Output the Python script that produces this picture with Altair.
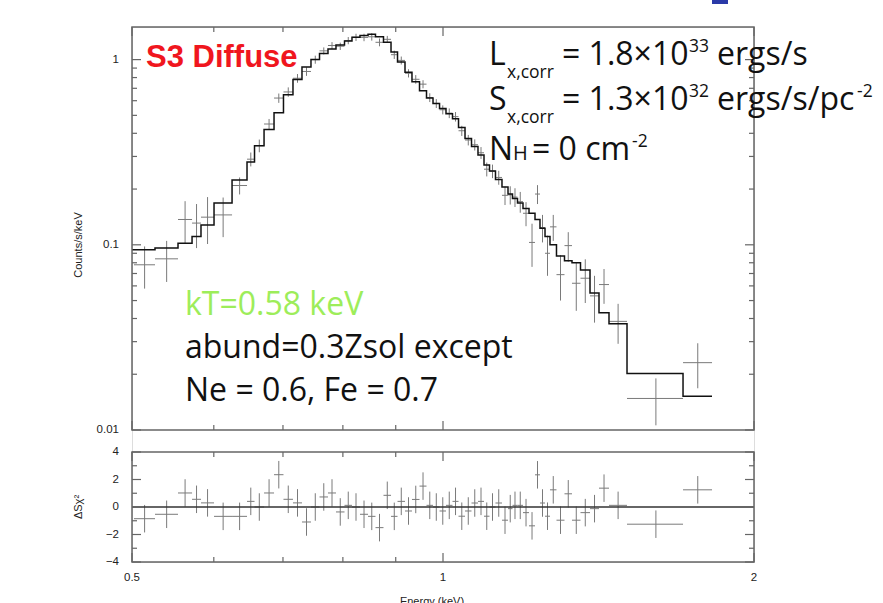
import altair as alt
import pandas as pd

# ---------------- data ----------------
# channel-bin edges (keV), 60 bins
EDGES = [0.5022, 0.5263, 0.5540, 0.5716, 0.5831, 0.6003, 0.6249, 0.6461, 0.6570, 0.6711,
         0.6862, 0.7008, 0.7158, 0.7303, 0.7451, 0.7594, 0.7739, 0.7878, 0.8029, 0.8164,
         0.8311, 0.8461, 0.8603, 0.8758, 0.8906, 0.9036, 0.9188, 0.9332, 0.9490, 0.9639,
         0.9780, 0.9923, 1.0067, 1.0214, 1.0352, 1.0503, 1.0656, 1.0811, 1.0957, 1.1092,
         1.1241, 1.1405, 1.1559, 1.1675, 1.1806, 1.1952, 1.2113, 1.2276, 1.2413, 1.2553,
         1.2693, 1.2878, 1.3110, 1.3331, 1.3586, 1.3877, 1.4158, 1.4477, 1.5070, 1.7074,
         1.8214]
# folded model (counts/s/keV) per bin
MODEL = [0.094, 0.096, 0.102, 0.111, 0.128, 0.168, 0.224, 0.280, 0.343, 0.419,
         0.517, 0.647, 0.780, 0.913, 1.00, 1.08, 1.14, 1.20, 1.26, 1.32,
         1.35, 1.37, 1.33, 1.24, 1.10, 0.97, 0.855, 0.76, 0.68, 0.62,
         0.58, 0.545, 0.51, 0.48, 0.43, 0.375, 0.34, 0.305, 0.27, 0.25,
         0.225, 0.205, 0.188, 0.178, 0.168, 0.157, 0.148, 0.137, 0.123, 0.111,
         0.100, 0.087, 0.082, 0.080, 0.073, 0.055, 0.043, 0.0375, 0.0202, 0.0152]
MODEL_START = 0.5
# data (counts/s/keV) and 1-sigma errors
COUNTS = [0.078, 0.084, 0.137, 0.131, 0.141, 0.145, 0.209, 0.290, 0.343, 0.449,
          0.620, 0.669, 0.793, 0.863, 1.00, 1.115, 1.192, 1.181, 1.267, 1.32,
          1.318, 1.328, 1.240, 1.287, 1.063, 0.990, 0.844, 0.783, 0.737, 0.624,
          0.58, 0.536, 0.514, 0.492, 0.413, 0.368, 0.347, 0.314, 0.256, 0.25,
          0.231, 0.185, 0.186, 0.181, 0.171, 0.148, 0.103, 0.188, 0.124, 0.090,
          0.125, 0.069, 0.099, 0.062, 0.066, 0.053, 0.061, 0.0386, 0.0148, 0.0231]
ERR = [0.020, 0.021, 0.035, 0.035, 0.040, 0.035, 0.022, 0.025, 0.027, 0.029,
       0.036, 0.039, 0.043, 0.046, 0.050, 0.049, 0.051, 0.054, 0.057, 0.059,
       0.061, 0.062, 0.060, 0.056, 0.055, 0.049, 0.043, 0.042, 0.037, 0.034,
       0.032, 0.030, 0.031, 0.029, 0.026, 0.024, 0.024, 0.023, 0.022, 0.021,
       0.020, 0.021, 0.021, 0.021, 0.022, 0.022, 0.027, 0.022, 0.021, 0.022,
       0.020, 0.019, 0.018, 0.018, 0.0175, 0.015, 0.013, 0.0094, 0.0042, 0.0063]
# residuals (sign(data-model) * delta chi)
RESID = [-0.85, -0.53, 1.02, 0.56, 0.30, -0.68, -0.68, 0.41, 0.00, 1.02,
         2.35, 0.56, 0.30, -1.09, 0.00, 0.73, 1.02, -0.36, 0.12, 0.00,
         -0.53, -0.68, -1.50, 0.85, -0.68, 0.41, -0.29, 0.55, 1.52, 0.12,
         0.00, -0.29, 0.12, 0.41, -0.67, -0.29, 0.29, 0.41, -0.67, 0.00,
         0.29, -0.96, -0.12, 0.12, 0.12, -0.41, -1.37, 2.34, 0.29, -0.67,
         1.25, -0.96, 0.96, -0.96, -0.41, -0.12, 1.37, 0.12, -1.25, 1.25]
RESID_ERR = 1.0

X_MAJOR = [0.5, 1.0, 2.0]
X_LABELS = ["0.5", "1", "2"]
X_MINOR = [0.6, 0.7, 0.8, 0.9]
Y_MAJOR = [0.01, 0.1, 1.0]
Y_LABELS = ["0.01", "0.1", "1"]
Y_MINOR = [0.02, 0.03, 0.04, 0.05, 0.06, 0.07, 0.08, 0.09,
           0.2, 0.3, 0.4, 0.5, 0.6, 0.7, 0.8, 0.9]
R_MAJOR = [-4, -2, 0, 2, 4]
R_LABELS = ["\u22124", "\u22122", "0", "2", "4"]
R_MINOR = [-3, -1, 1, 3]

# ---------------- layout ----------------
W, H = 622, 535
TOP_H = 403
RES_TOP, RES_BOT = 425, 535
FRAME = "#666666"
INK = "#222222"
CROSS = "#7a7a7a"

xs = alt.Scale(type="log", domain=[0.5, 2.0], nice=False)
ys = alt.Scale(type="log", domain=[0.01, 1.5], range=[TOP_H, 0], nice=False)
rs = alt.Scale(type="linear", domain=[-4, 4], range=[RES_BOT, RES_TOP], nice=False, zero=False)

lo = EDGES[:-1]
hi = EDGES[1:]
bins = pd.DataFrame({
    "lo": lo, "hi": hi,
    "mid": [(a + b) / 2 for a, b in zip(lo, hi)],
    "c": COUNTS,
    "clo": [c - e for c, e in zip(COUNTS, ERR)],
    "chi": [c + e for c, e in zip(COUNTS, ERR)],
    "r": RESID,
    "rlo": [r - RESID_ERR for r in RESID],
    "rhi": [r + RESID_ERR for r in RESID],
})
model_df = pd.DataFrame({"x": [MODEL_START] + hi, "y": MODEL + [MODEL[-1]]})

X = lambda f: alt.X(f, type="quantitative", scale=xs, axis=None)
layers = []

# data crosses (top)
base = alt.Chart(bins)
layers.append(base.mark_rule(color=CROSS, strokeWidth=1).encode(
    x=X("lo"), x2="hi", y=alt.Y("c:Q", scale=ys, axis=None)))
layers.append(base.mark_rule(color=CROSS, strokeWidth=1).encode(
    x=X("mid"), y=alt.Y("clo:Q", scale=ys, axis=None), y2="chi"))
# model step line
layers.append(alt.Chart(model_df).mark_line(interpolate="step-after", color="#111111",
                                            strokeWidth=1.5).encode(
    x=X("x"), y=alt.Y("y:Q", scale=ys, axis=None)))
# residual crosses
layers.append(base.mark_rule(color=CROSS, strokeWidth=1).encode(
    x=X("lo"), x2="hi", y=alt.Y("r:Q", scale=rs, axis=None)))
layers.append(base.mark_rule(color=CROSS, strokeWidth=1).encode(
    x=X("mid"), y=alt.Y("rlo:Q", scale=rs, axis=None), y2="rhi"))
# zero line
zero = pd.DataFrame({"x": [0.5], "x2": [2.0], "y": [0.0]})
layers.append(alt.Chart(zero).mark_rule(color="#333333", strokeWidth=1.3).encode(
    x=X("x"), x2="x2", y=alt.Y("y:Q", scale=rs, axis=None)))

# frames
ftop = pd.DataFrame({"x": [0.5], "x2": [2.0], "y": [0.01], "y2": [1.5]})
layers.append(alt.Chart(ftop).mark_rect(filled=False, stroke=FRAME, strokeWidth=1.5).encode(
    x=X("x"), x2="x2", y=alt.Y("y:Q", scale=ys, axis=None), y2="y2"))
fres = pd.DataFrame({"x": [0.5], "x2": [2.0], "y": [-4.0], "y2": [4.0]})
layers.append(alt.Chart(fres).mark_rect(filled=False, stroke=FRAME, strokeWidth=1.5).encode(
    x=X("x"), x2="x2", y=alt.Y("y:Q", scale=rs, axis=None), y2="y2"))


def xticks(vals, y0, y1):
    return alt.Chart(pd.DataFrame({"v": vals})).mark_rule(color=FRAME, strokeWidth=1.2).encode(
        x=X("v"), y=alt.value(y0), y2=alt.value(y1))


def yticks(vals, scale, x0, x1):
    return alt.Chart(pd.DataFrame({"v": vals})).mark_rule(color=FRAME, strokeWidth=1.2).encode(
        y=alt.Y("v:Q", scale=scale, axis=None), x=alt.value(x0), x2=alt.value(x1))


MAJ, MIN = 9, 5
for y0, d in [(TOP_H, -1), (0, 1), (RES_TOP, 1), (RES_BOT, -1)]:
    layers.append(xticks(X_MAJOR, y0, y0 + d * MAJ))
    layers.append(xticks(X_MINOR, y0, y0 + d * MIN))
for x0, d in [(0, 1), (W, -1)]:
    layers.append(yticks(Y_MAJOR, ys, x0, x0 + d * MAJ))
    layers.append(yticks(Y_MINOR, ys, x0, x0 + d * MIN))
    layers.append(yticks(R_MAJOR, rs, x0, x0 + d * MAJ))
    layers.append(yticks(R_MINOR, rs, x0, x0 + d * MIN))

# tick labels
TICKFONT = "Liberation Sans"
layers.append(alt.Chart(pd.DataFrame({"v": X_MAJOR, "t": X_LABELS})).mark_text(
    font=TICKFONT, fontSize=11.5, color=INK, baseline="middle", align="center").encode(
    x=X("v"), y=alt.value(551), text="t:N"))
layers.append(alt.Chart(pd.DataFrame({"v": Y_MAJOR, "t": Y_LABELS})).mark_text(
    font=TICKFONT, fontSize=11.5, color=INK, baseline="middle", align="right").encode(
    y=alt.Y("v:Q", scale=ys, axis=None), x=alt.value(-13), text="t:N"))
layers.append(alt.Chart(pd.DataFrame({"v": R_MAJOR, "t": R_LABELS})).mark_text(
    font=TICKFONT, fontSize=11.5, color=INK, baseline="middle", align="right").encode(
    y=alt.Y("v:Q", scale=rs, axis=None), x=alt.value(-13), text="t:N"))


def label(txt, x, y, size, color="#111111", font="Open Sans", weight="normal",
          baseline="alphabetic", align="left", angle=0):
    return alt.Chart(pd.DataFrame({"t": [txt]})).mark_text(
        x=x, y=y, fontSize=size, color=color, font=font, fontWeight=weight,
        baseline=baseline, align=align, angle=angle).encode(text="t:N")


# axis titles
layers.append(label("Counts/s/keV", -53, 218, 11, INK, TICKFONT, baseline="middle",
                    align="center", angle=270))
layers.append(label("\u0394S\u03c7\u00b2", -53, 480, 11, INK, TICKFONT, baseline="middle",
                    align="center", angle=270))
layers.append(label("Energy (keV)", 300, 569, 11, INK, TICKFONT, baseline="top",
                    align="center"))

# small blue link fragment at the top edge of the picture
layers.append(alt.Chart(pd.DataFrame({"t": [0]})).mark_rect(color="#2a3aa8").encode(
    x=alt.value(580), x2=alt.value(596), y=alt.value(-27), y2=alt.value(-23)))

# annotations
BIG, SMALL = 32, 17.5
layers.append(label("S3 Diffuse", 14, 40, 31, "#f0161e", "Liberation Sans", "bold"))
layers.append(label("L", 357, 38, BIG))
layers.append(label("x,corr", 375, 51, SMALL))
layers.append(label("= 1.8\u00d710", 430, 38, BIG))
layers.append(label("33", 557, 25, SMALL))
layers.append(label("ergs/s", 585, 38, BIG))
layers.append(label("S", 357, 83, BIG))
layers.append(label("x,corr", 375, 96, SMALL))
layers.append(label("= 1.3\u00d710", 430, 83, BIG))
layers.append(label("32", 557, 70, SMALL))
layers.append(label("ergs/s/pc", 585, 83, BIG))
layers.append(label("-2", 725, 70, SMALL))
layers.append(label("N", 357, 133, BIG))
layers.append(label("H", 381, 133, 20))
layers.append(label("= 0 cm", 400, 133, BIG))
layers.append(label("-2", 500, 120, SMALL))
layers.append(label("kT=0.58 keV", 53, 288, BIG, "#9ded5a"))
layers.append(label("abund=0.3Zsol except", 53, 331, BIG))
layers.append(label("Ne = 0.6, Fe = 0.7", 53, 374, BIG))

chart = alt.layer(*layers).resolve_scale(y="independent").properties(
    width=W, height=H,
    autosize=alt.AutoSizeParams(type="none"),
    padding={"left": 132, "top": 27, "right": 129, "bottom": 41},
).configure_view(stroke=None).configure(background="white")

chart.save("out.html", embed_options={"renderer": "svg", "actions": False})
